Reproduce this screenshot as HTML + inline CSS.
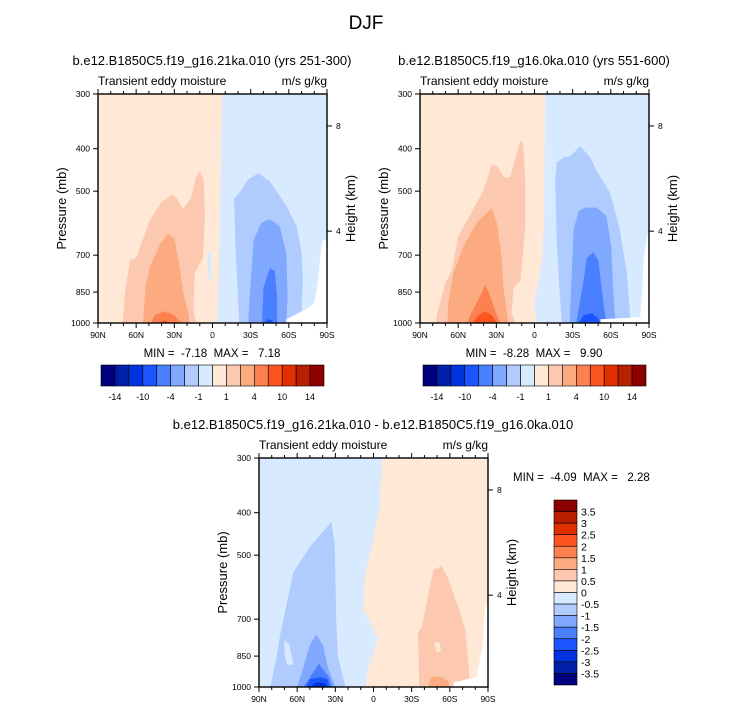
<!DOCTYPE html>
<html><head><meta charset="utf-8">
<style>
html,body{margin:0;padding:0;background:#fff;}
svg{display:block;font-family:"Liberation Sans",Arial,sans-serif;}
text{white-space:pre;}
</style></head>
<body>
<svg id="chart" width="733" height="712" viewBox="0 0 733 712" xmlns="http://www.w3.org/2000/svg" xml:space="preserve">
<text x="366" y="29" font-size="19" text-anchor="middle">DJF</text>
</svg>
<script>
// ---- data ----
const colors = ["#00007f","#0020a8","#0033dd","#1a55ff","#4a7fff","#80a8ff","#b0ccff","#d8eaff","#ffe8d6","#fcc8b0","#fcaa80","#fc8050","#fc5520","#e03000","#b82000","#8c0000"];
const cbLabels1 = ["-14","-10","-4","-1","1","4","10","14"];
const cbLabels3 = ["3.5","3","2.5","2","1.5","1","0.5","0","-0.5","-1","-1.5","-2","-2.5","-3","-3.5"];
const pTicks = [300,400,500,700,850,1000];
const latTicks = [90,60,30,0,-30,-60,-90];
const latTickLabels = ["90N","60N","30N","0","30S","60S","90S"];
const zTicks = [8,4];

// panel 1 contours: [lat, pressure] points
const p1Bg = [[90,300],[-7.7,300],[-6,560],[-4,1000],[90,1000]];
const p1Pos1 = [[70.4,1000],[69,866],[65,720],[60,710],[49,580],[40,530],[32,508],[28,520],[23,548],[17,520],[13,464],[10,450],[7,470],[6,560],[7.5,710],[14,770],[15,930],[13,1000]];
const p1Pos4 = [[54.6,1000],[52.5,820],[49,740],[41,660],[35,625],[30,640],[26,740],[23,850],[19,950],[18,1000]];
const p1Pos10 = [[48,1000],[45.5,960],[37.6,940],[30,960],[24.6,1000]];
const p1Pos14 = [[41.5,1000],[37.6,985],[33.6,1000]];
const p1NegSliver = [[3.5,680],[1,700],[1,800],[3,800],[4,740]];
const p1Neg1 = [[-21,1000],[-20,865],[-18,670],[-17,520],[-21,505],[-28,470],[-36,455],[-45,475],[-58,540],[-66,600],[-70,690],[-71,800],[-70,950],[-66,1000]];
const p1Neg4 = [[-28,1000],[-30,800],[-32.4,645],[-38.4,590],[-45,580],[-52.6,600],[-58,690],[-59,870],[-58,1000]];
const p1Neg10 = [[-39,1000],[-40,830],[-45,750],[-49,760],[-50.7,870],[-50.7,1000]];
const p1Neg14 = [[-40.7,1000],[-43.5,980],[-47,985],[-47,1000]];
const p1Missing = [[-86.6,645],[-85,690],[-82.8,810],[-80,900],[-73.6,930],[-58,980],[-58,1000],[-90,1000],[-90,645]];

// panel 2 contours
const p2Bg = [[90,300],[-8.3,300],[-7.8,550],[-6,720],[-0.1,900],[-1.3,1000],[90,1000]];
const p2Pos1 = [[77.7,1000],[75.6,930],[70,810],[65,760],[60,635],[49.6,560],[40,497],[33.6,435],[29.6,438],[24,465],[19,465],[14,410],[10.7,382],[8.7,395],[7.4,470],[7.4,610],[11,800],[16.5,830],[18,950],[15,1000]];
const p2Pos4 = [[68.5,1000],[67.7,900],[63.8,770],[56,670],[45.4,590],[37.5,560],[33.6,548],[29.6,590],[25.7,710],[24.4,830],[21.7,950],[20.5,1000]];
const p2Pos10 = [[52.7,1000],[50.6,960],[42.8,870],[38.8,820],[36,850],[29.6,960],[27,1000]];
const p2Pos14 = [[49,1000],[43.8,960],[38.8,940],[33.6,960],[29.6,1000]];
const p2Neg1 = [[-21.5,1000],[-20,870],[-17.6,670],[-16.3,470],[-17.6,430],[-22.8,418],[-28,416],[-36,395],[-43.8,418],[-49,450],[-59.5,505],[-67,610],[-72.6,770],[-75,940],[-75,1000]];
const p2Neg4 = [[-27.6,1000],[-29,800],[-30.8,610],[-34.8,555],[-39.9,545],[-49,545],[-56.5,570],[-60.4,670],[-61.7,830],[-63,940],[-64,1000]];
const p2Neg10 = [[-32.8,1000],[-38.6,800],[-41,710],[-46.4,690],[-50.3,720],[-52,800],[-55,940],[-57,1000]];
const p2Neg14 = [[-34.6,1000],[-38.6,960],[-45,950],[-50,975],[-51.7,1000]];
const p2Missing = [[-89,625],[-86.8,680],[-85.7,720],[-84.4,870],[-83,970],[-51.7,980],[-52,1000],[-90,1000],[-90,625]];

// panel 3 (difference) contours
const p3Bg = [[-6.5,300],[-5,385],[0,460],[6.5,548],[8,665],[4,700],[-3.5,775],[0,830],[5,930],[6,1000],[90,1000],[90,300]];
const p3Neg1 = [[81,1000],[76,850],[73,750],[63,548],[50,478],[33,420],[30.5,470],[29.3,700],[28,850],[22,1000]];
const p3HoleN = [[70,780],[66,800],[63,890],[68,890],[70,840]];
const p3Neg15 = [[60,1000],[55,900],[50,800],[45,760],[39.8,800],[36,900],[30,1000]];
const p3Neg2 = [[55,1000],[50,950],[43,885],[35,950],[32.5,1000]];
const p3Neg25 = [[53,1000],[50,960],[42,950],[36,960],[34.7,1000]];
const p3Neg3 = [[50,1000],[45,975],[38,980],[37,1000]];
const p3Pos05 = [[-36,1000],[-35,750],[-38,730],[-42,640],[-47,540],[-53.5,530],[-58,560],[-67,660],[-72,740],[-74,840],[-76,1000]];
const p3HoleS = [[-48,790],[-52,790],[-53,830],[-49,830]];
const p3Pos1 = [[-43,1000],[-45,950],[-52,945],[-59,970],[-59,1000]];
const p3Missing = [[-88,650],[-87,700],[-86,800],[-81,950],[-63,975],[-63,1000],[-90,1000],[-90,650]];
</script>
<script>
const svg = document.getElementById('chart');
const NS = 'http://www.w3.org/2000/svg';
function mk(tag, attrs, parent){const e=document.createElementNS(NS,tag);for(const k in attrs)e.setAttribute(k,attrs[k]);(parent||svg).appendChild(e);return e;}

function makePanel(x0,x1,y0,y1){
  return {
    x: lat => x0 + (90-lat)/180*(x1-x0),
    y: p => y0 + Math.log(p/300)/Math.log(1000/300)*(y1-y0),
    x0,x1,y0,y1
  };
}
function poly(P, pts, col, name, g){
  const d = pts.map(q => P.x(q[0]).toFixed(1)+','+P.y(q[1]).toFixed(1)).join(' ');
  const e = mk('polygon',{points:d,fill:col},g);
  
  
}
function axes(P, g){
  const L=P.x0,R=P.x1,T=P.y0,B=P.y1;
  mk('rect',{x:L,y:T,width:R-L,height:B-T,fill:'none',stroke:'#000','stroke-width':1.4},g);
  pTicks.forEach(p=>{
    const y=P.y(p);
    mk('line',{x1:L-5,x2:L,y1:y,y2:y,stroke:'#000'},g);
    const t=mk('text',{x:L-8,y:y+3,'font-size':8.5,'text-anchor':'end'},g);t.textContent=p;
    
    
  });
  for(let lat=90;lat>=-90;lat-=10){
    const x=P.x(lat), major=(lat%30===0), len=major?5:3;
    mk('line',{x1:x,x2:x,y1:B,y2:B+len,stroke:'#000'},g);
    mk('line',{x1:x,x2:x,y1:T,y2:T-len,stroke:'#000'},g);
  }
  latTicks.forEach((lat,i)=>{
    const t=mk('text',{x:P.x(lat),y:B+15,'font-size':8.5,'text-anchor':'middle'},g);t.textContent=latTickLabels[i];
    
    
  });
  const H=7.23, p0=1073;
  zTicks.forEach(z=>{
    const y=P.y(p0*Math.exp(-z/H));
    mk('line',{x1:R,x2:R+5,y1:y,y2:y,stroke:'#000'},g);
    const t=mk('text',{x:R+9,y:y+3,'font-size':8.5},g);t.textContent=z;
    
    
  });
  const yl=mk('text',{x:0,y:0,'font-size':13,'text-anchor':'middle',transform:`translate(${L-32},${(T+B)/2}) rotate(-90)`},g);
  yl.textContent='Pressure (mb)';
  
  
  const zl=mk('text',{x:0,y:0,'font-size':13,'text-anchor':'middle',transform:`translate(${R+28},${(T+B)/2}) rotate(-90)`},g);
  zl.textContent='Height (km)';
  
  
  const s1=mk('text',{x:L,y:T-9,'font-size':12},g);s1.textContent='Transient eddy moisture';
  
  
  const s2=mk('text',{x:R,y:T-9,'font-size':12,'text-anchor':'end'},g);s2.textContent='m/s g/kg';
  
  
}
function title(x,y,s,name){
  const t=mk('text',{x,y,'font-size':13,'text-anchor':'middle'});t.textContent=s;
  
  
}
function hColorbar(x0,x1,y0,y1,name){
  const g=mk('g',{});
  
  
  const w=(x1-x0)/colors.length;
  colors.forEach((c,i)=>{
    const r=mk('rect',{x:x0+i*w,y:y0,width:w,height:y1-y0,fill:c,stroke:'#000','stroke-width':0.6},g);
    
    
  });
  cbLabels1.forEach((s,i)=>{
    const t=mk('text',{x:x0+(1+2*i)*w,y:y1+14,'font-size':9,'text-anchor':'middle'},g);t.textContent=s;
    
    
  });
}
function minmax(x,y,s,anchor){
  const t=mk('text',{x,y,'font-size':11.5,'text-anchor':anchor});t.textContent=s;
  
  
}

// Panel 1
{
  const P=makePanel(98,327,94,323);
  const g=mk('g',{});
  
  
  mk('rect',{x:P.x0,y:P.y0,width:P.x1-P.x0,height:P.y1-P.y0,fill:colors[7]},g);
  poly(P,p1Bg,colors[8],'contour-pos-0-1',g);
  poly(P,p1Pos1,colors[9],'contour-pos-1-4',g);
  poly(P,p1Pos4,colors[10],'contour-pos-4-10',g);
  poly(P,p1Pos10,colors[11],'contour-pos-10-14',g);
  poly(P,p1Pos14,colors[12],'contour-pos-14',g);
  poly(P,p1NegSliver,colors[7],'contour-neg-sliver',g);
  poly(P,p1Neg1,colors[6],'contour-neg-1-4',g);
  poly(P,p1Neg4,colors[5],'contour-neg-4-10',g);
  poly(P,p1Neg10,colors[4],'contour-neg-10-14',g);
  poly(P,p1Neg14,colors[3],'contour-neg-14',g);
  poly(P,p1Missing,'#ffffff','missing-data',g);
  axes(P,g);
  title(212,65,'b.e12.B1850C5.f19_g16.21ka.010 (yrs 251-300)','panel1-title');
  minmax(212,357,'MIN =  -7.18  MAX =   7.18','middle');
  hColorbar(101,324,365,386,'colorbar-panel1');
}
// Panel 2
{
  const P=makePanel(420,649,94,323);
  const g=mk('g',{});
  
  
  mk('rect',{x:P.x0,y:P.y0,width:P.x1-P.x0,height:P.y1-P.y0,fill:colors[7]},g);
  poly(P,p2Bg,colors[8],'contour-pos-0-1',g);
  poly(P,p2Pos1,colors[9],'contour-pos-1-4',g);
  poly(P,p2Pos4,colors[10],'contour-pos-4-10',g);
  poly(P,p2Pos10,colors[11],'contour-pos-10-14',g);
  poly(P,p2Pos14,colors[12],'contour-pos-14',g);
  poly(P,p2Neg1,colors[6],'contour-neg-1-4',g);
  poly(P,p2Neg4,colors[5],'contour-neg-4-10',g);
  poly(P,p2Neg10,colors[4],'contour-neg-10-14',g);
  poly(P,p2Neg14,colors[3],'contour-neg-14',g);
  poly(P,p2Missing,'#ffffff','missing-data',g);
  axes(P,g);
  title(534,65,'b.e12.B1850C5.f19_g16.0ka.010 (yrs 551-600)','panel2-title');
  minmax(534,357,'MIN =  -8.28  MAX =   9.90','middle');
  hColorbar(423,646,365,386,'colorbar-panel2');
}
// Panel 3
{
  const P=makePanel(259,488,458,687);
  const g=mk('g',{});
  
  
  mk('rect',{x:P.x0,y:P.y0,width:P.x1-P.x0,height:P.y1-P.y0,fill:colors[8]},g);
  poly(P,p3Bg,colors[7],'contour-neg-0-05',g);
  poly(P,p3Neg1,colors[6],'contour-neg-05-1',g);
  poly(P,p3HoleN,colors[7],'contour-hole-north',g);
  poly(P,p3Neg15,colors[5],'contour-neg-1-15',g);
  poly(P,p3Neg2,colors[4],'contour-neg-15-2',g);
  poly(P,p3Neg25,colors[3],'contour-neg-2-25',g);
  poly(P,p3Neg3,colors[2],'contour-neg-25-3',g);
  poly(P,p3Pos05,colors[9],'contour-pos-05-1',g);
  poly(P,p3HoleS,colors[8],'contour-hole-south',g);
  poly(P,p3Pos1,colors[10],'contour-pos-1-15',g);
  poly(P,p3Missing,'#ffffff','missing-data',g);
  axes(P,g);
  title(373,429,'b.e12.B1850C5.f19_g16.21ka.010 - b.e12.B1850C5.f19_g16.0ka.010','panel3-title');
  minmax(513,481,'MIN =  -4.09  MAX =   2.28','start');
  const cb=mk('g',{});
  
  
  const x0=554,x1=577,y0=500,y1=685,h=(y1-y0)/colors.length;
  colors.slice().reverse().forEach((c,i)=>{
    const r=mk('rect',{x:x0,y:y0+i*h,width:x1-x0,height:h,fill:c,stroke:'#000','stroke-width':0.6},cb);
    
    
  });
  cbLabels3.forEach((s,i)=>{
    const t=mk('text',{x:581,y:y0+(i+1)*h+4,'font-size':10.5},cb);t.textContent=s;
    
    
  });
}
</script>
</body></html>
